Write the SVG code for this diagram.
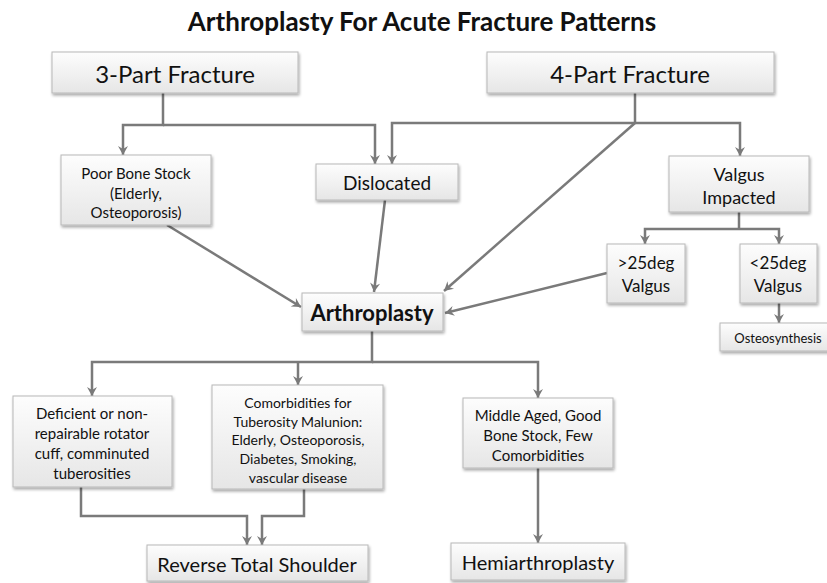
<svg xmlns="http://www.w3.org/2000/svg" width="827" height="583" viewBox="0 0 827 583">
<defs>
<linearGradient id="g" x1="0" y1="0" x2="0" y2="1">
<stop offset="0" stop-color="#fdfdfd"/>
<stop offset="1" stop-color="#e6e6e6"/>
</linearGradient>
<filter id="sh" x="-10%" y="-10%" width="125%" height="140%">
<feGaussianBlur in="SourceAlpha" stdDeviation="1.5"/>
<feOffset dx="1" dy="2" result="b"/>
<feComponentTransfer><feFuncA type="linear" slope="0.35"/></feComponentTransfer>
<feMerge><feMergeNode/><feMergeNode in="SourceGraphic"/></feMerge>
</filter>
<marker id="ah" viewBox="-1 -6 11 12" refX="9" refY="0" markerWidth="11" markerHeight="12" markerUnits="userSpaceOnUse" orient="auto">
<path d="M0,-5 L9,0 L0,5 L3,0 z" fill="#7a7a7a"/>
</marker>
</defs>
<style>
.box{fill:url(#g);stroke:#b8b8b8;stroke-width:1;filter:url(#sh)}
.t{font-family:Lato,"Open Sans","Liberation Sans",sans-serif;fill:#111111;text-anchor:middle;dominant-baseline:central}
.c{fill:none;stroke:#7a7a7a;stroke-width:2.5}
.a{marker-end:url(#ah)}
</style>
<rect width="827" height="583" fill="#ffffff"/>
<text class="t" x="422" y="21" font-size="26" font-weight="bold">Arthroplasty For Acute Fracture Patterns</text>

<g id="connectors">
<path class="c a" d="M163,93 V125 H123 V155"/>
<path class="c a" d="M163,125 H375 V164"/>
<path class="c" d="M635,93 V123"/>
<path class="c a" d="M635,123 H392 V164"/>
<path class="c a" d="M635,123 H740 V156"/>
<path class="c a" d="M635,123 L444,291"/>
<path class="c a" d="M167,225 L301,307"/>
<path class="c a" d="M385,200 L374,292"/>
<path class="c a" d="M607,273 L445,313"/>
<path class="c" d="M739,212 V229"/>
<path class="c a" d="M739,229 H645 V244"/>
<path class="c a" d="M739,229 H779 V244"/>
<path class="c a" d="M779,303 V323"/>
<path class="c a" d="M372,331 V362 H92 V396"/>
<path class="c a" d="M372,362 H538 V398"/>
<path class="c a" d="M298,362 V385"/>
<path class="c a" d="M81,487 V516 H247 V545"/>
<path class="c a" d="M304,489 V516 H262 V545"/>
<path class="c a" d="M538,468 V543"/>
</g>

<g id="n3part"><rect class="box" x="52" y="52" width="246" height="41"/><text class="t" x="175" y="73" font-size="24">3-Part Fracture</text></g>
<g id="n4part"><rect class="box" x="487" y="52" width="287" height="41"/><text class="t" x="630" y="73" font-size="24">4-Part Fracture</text></g>
<g id="npoor"><rect class="box" x="61" y="155" width="150" height="70"/>
<text class="t" x="136" y="173" font-size="15">Poor Bone Stock</text>
<text class="t" x="136" y="193" font-size="15">(Elderly,</text>
<text class="t" x="136" y="212" font-size="15">Osteoporosis)</text></g>
<g id="ndisl"><rect class="box" x="316" y="164" width="142" height="36"/><text class="t" x="387" y="182" font-size="19">Dislocated</text></g>
<g id="nvalgus"><rect class="box" x="669" y="156" width="140" height="56"/>
<text class="t" x="739" y="174" font-size="18">Valgus</text>
<text class="t" x="739" y="197" font-size="18">Impacted</text></g>
<g id="ngt25"><rect class="box" x="607" y="244" width="78" height="59"/>
<text class="t" x="646" y="262" font-size="17">&gt;25deg</text>
<text class="t" x="646" y="285" font-size="17">Valgus</text></g>
<g id="nlt25"><rect class="box" x="740" y="244" width="77" height="59"/>
<text class="t" x="778" y="262" font-size="17">&lt;25deg</text>
<text class="t" x="778" y="285" font-size="17">Valgus</text></g>
<g id="nosteo"><rect class="box" x="720" y="323" width="110" height="28"/><text class="t" x="778" y="338" font-size="13">Osteosynthesis</text></g>
<g id="narthro"><rect class="box" x="302" y="293" width="141" height="38"/><text class="t" x="372" y="312" font-size="22" font-weight="bold">Arthroplasty</text></g>
<g id="ndef"><rect class="box" x="13" y="396" width="159" height="91"/>
<text class="t" x="92" y="413" font-size="15">Deficient or non-</text>
<text class="t" x="92" y="433" font-size="15">repairable rotator</text>
<text class="t" x="92" y="453" font-size="15">cuff, comminuted</text>
<text class="t" x="92" y="473" font-size="15">tuberosities</text></g>
<g id="ncomorb"><rect class="box" x="212" y="385" width="171" height="104"/>
<text class="t" x="298" y="402" font-size="14">Comorbidities for</text>
<text class="t" x="298" y="421" font-size="14">Tuberosity Malunion:</text>
<text class="t" x="298" y="439" font-size="14">Elderly, Osteoporosis,</text>
<text class="t" x="298" y="458" font-size="14">Diabetes, Smoking,</text>
<text class="t" x="298" y="477" font-size="14">vascular disease</text></g>
<g id="nmiddle"><rect class="box" x="463" y="398" width="150" height="70"/>
<text class="t" x="538" y="415" font-size="15">Middle Aged, Good</text>
<text class="t" x="538" y="435" font-size="15">Bone Stock, Few</text>
<text class="t" x="538" y="455" font-size="15">Comorbidities</text></g>
<g id="nrev"><rect class="box" x="147" y="545" width="221" height="36"/><text class="t" x="257" y="564" font-size="20">Reverse Total Shoulder</text></g>
<g id="nhemi"><rect class="box" x="451" y="543" width="174" height="37"/><text class="t" x="538" y="562" font-size="20">Hemiarthroplasty</text></g>
</svg>
